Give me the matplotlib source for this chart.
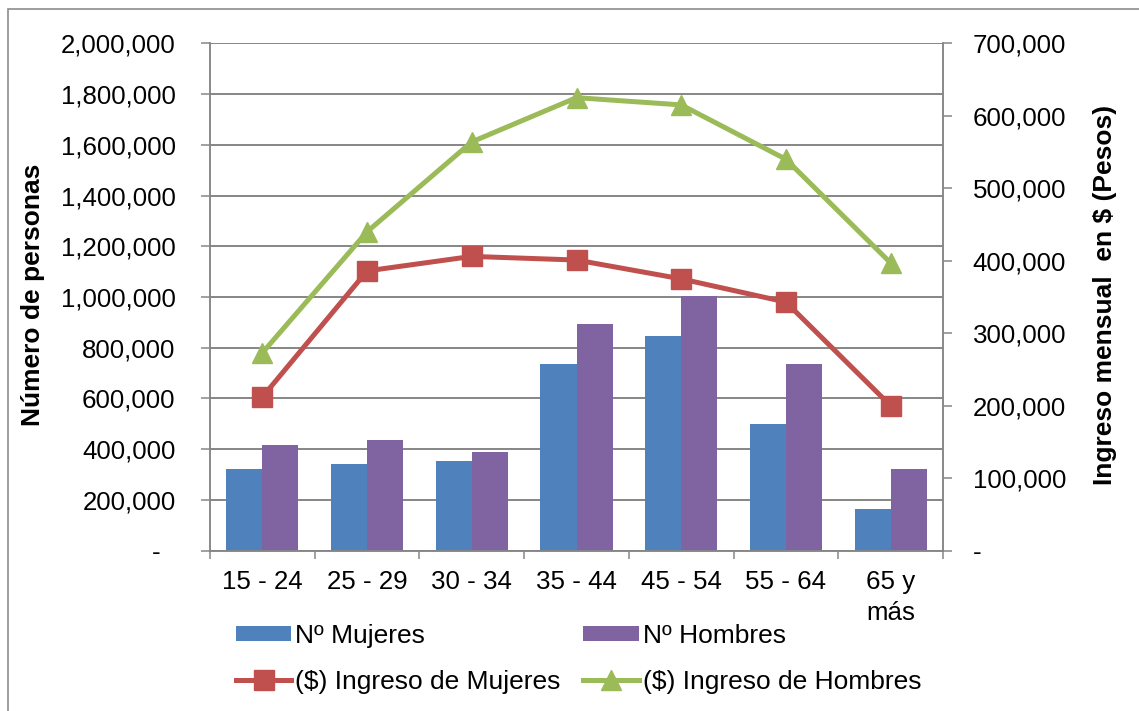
import numpy as np
import matplotlib
matplotlib.use("Agg")
import matplotlib.pyplot as plt
from matplotlib.ticker import FuncFormatter, MultipleLocator
from matplotlib.patches import Patch, Rectangle
from matplotlib.lines import Line2D

plt.rcParams['font.family'] = ['Liberation Sans', 'DejaVu Sans']

# ---- data ----
categories = ["15 - 24", "25 - 29", "30 - 34", "35 - 44", "45 - 54", "55 - 64", "65 y\nmás"]
n_mujeres = [321000, 343000, 352000, 735000, 846000, 500000, 163000]
n_hombres = [418000, 436000, 390000, 895000, 1005000, 737000, 324000]
ingreso_mujeres = [212000, 386000, 406000, 401000, 375000, 343000, 200000]
ingreso_hombres = [273000, 440000, 564000, 625000, 615000, 540000, 397000]

label_bar_m = "Nº Mujeres"
label_bar_h = "Nº Hombres"
label_line_m = r"(\$) Ingreso de Mujeres"
label_line_h = r"(\$) Ingreso de Hombres"
ylabel_left = "Número de personas"
ylabel_right = r"Ingreso mensual  en \$ (Pesos)"

C_BLUE = "#4F81BD"
C_PURPLE = "#8064A2"
C_RED = "#C0504D"
C_GREEN = "#9BBB59"
C_GRID = "#868686"

W, H = 1139, 711
fig = plt.figure(figsize=(W / 100, H / 100), dpi=100)

L, R, T, B = 210, 943, 43.3, 550.7
ax = fig.add_axes([L / W, 1 - B / H, (R - L) / W, (B - T) / H])
ax2 = ax.twinx()

x = np.arange(len(categories))
bw = 0.344
ax.bar(x - bw / 2, n_mujeres, width=bw, color=C_BLUE, zorder=2)
ax.bar(x + bw / 2, n_hombres, width=bw, color=C_PURPLE, zorder=2)

ax2.plot(x, ingreso_mujeres, color=C_RED, lw=3.6, marker='s', ms=14, zorder=3)
ax2.plot(x, ingreso_hombres, color=C_GREEN, lw=3.6, marker='^', ms=15, zorder=3)

ax.set_xlim(-0.5, len(categories) - 0.5)
ax.set_ylim(0, 2000000)
ax2.set_ylim(0, 700000)

ax.yaxis.set_major_locator(MultipleLocator(200000))
ax2.yaxis.set_major_locator(MultipleLocator(100000))
ax.yaxis.set_major_formatter(FuncFormatter(lambda v, p: f"{v:,.0f}" if v else "-  "))
ax2.yaxis.set_major_formatter(FuncFormatter(lambda v, p: f"{v:,.0f}" if v else "-"))

ax.set_xticks(x)
ax.set_xticklabels(categories)
for t in ax.get_xticklabels():
    t.set_linespacing(1.38)
ax.set_xticks(np.arange(-0.5, len(categories), 1), minor=True)
ax.tick_params(axis='x', which='major', length=0, pad=14, labelsize=18.6)
ax.tick_params(axis='x', which='minor', length=5.5, width=1.1, color=C_GRID, direction='out')
ax.tick_params(axis='y', length=6.3, width=1.1, color=C_GRID, pad=18.5, labelsize=18.6)
ax2.tick_params(axis='y', length=6.3, width=1.1, color=C_GRID, pad=15, labelsize=18.6)

ax.set_axisbelow(True)
ax.grid(axis='y', color=C_GRID, lw=1.4)
ax.grid(axis='x', visible=False)

for a in (ax, ax2):
    a.spines['top'].set_visible(False)
    for s in ('left', 'right', 'bottom'):
        a.spines[s].set_color(C_GRID)
        a.spines[s].set_linewidth(1.1)

fig.text(33 / W, 1 - 295 / H, ylabel_left, rotation=90, ha='center', va='center',
         fontsize=19, fontweight='bold')
fig.text(1105 / W, 1 - 295 / H, ylabel_right, rotation=90, ha='center', va='center',
         fontsize=19, fontweight='bold')

handles = [
    Patch(facecolor=C_BLUE, label=label_bar_m),
    Line2D([], [], color=C_RED, lw=3.6, marker='s', ms=14, label=label_line_m),
    Patch(facecolor=C_PURPLE, label=label_bar_h),
    Line2D([], [], color=C_GREEN, lw=3.6, marker='^', ms=15, label=label_line_h),
]
fig.legend(handles=handles, ncol=2, loc='upper left',
           bbox_to_anchor=(236 / W, 1 - 624 / H), bbox_transform=fig.transFigure,
           frameon=False, fontsize=19, borderpad=0, borderaxespad=0,
           handlelength=2.1, handleheight=0.5, handletextpad=0.15,
           columnspacing=0.85, labelspacing=0.82)

fig.add_artist(Rectangle((8 / W, -0.05), 1.2, 1 - 9 / H + 0.05, fill=False,
                         edgecolor="#8c8c8c", lw=1.2, transform=fig.transFigure,
                         clip_on=False))

fig.savefig("out.png", dpi=100)
